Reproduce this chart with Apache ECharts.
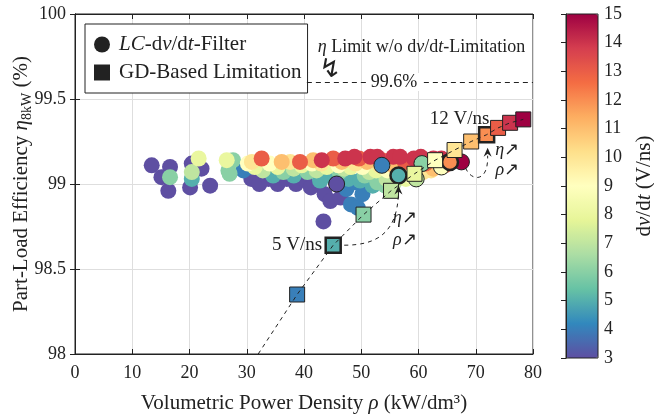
<!DOCTYPE html>
<html>
<head>
<meta charset="utf-8">
<script src="https://cdn.jsdelivr.net/npm/echarts@6/dist/echarts.min.js"></script>
<style>
  html, body { margin: 0; padding: 0; background: #fff; }
  #chart { width: 654px; height: 419px; }
</style>
</head>
<body>
<div id="chart"></div>
<script>
// LC-dv/dt-filter designs per dv/dt (V/ns), points are [rho kW/dm3, eta %]
const lc3 = [[13.4, 99.11], [15.1, 99.04], [16.6, 99.10], [16.3, 98.96], [20.1, 98.98], [20.4, 99.12],
  [22.1, 99.09], [23.6, 98.99], [30.8, 99.03], [32.2, 99.0], [33.8, 99.03], [35.4, 99.0], [37.0, 99.03],
  [38.6, 99.0], [40.0, 99.03], [41.2, 98.98], [42.6, 99.0], [43.6, 98.94], [44.6, 98.9], [43.4, 98.78],
  [46.4, 98.92]];
const lc4 = [[29.4, 99.08], [30.3, 99.1], [45.0, 99.05], [47.4, 98.97], [48.2, 98.88], [49.4, 98.86],
  [50.2, 98.94], [51.2, 98.99], [48.8, 99.01]];
const lc5 = [[20.4, 99.03], [34.6, 99.05], [38.2, 99.05], [42.8, 99.02], [44.2, 99.05], [47.8, 99.03],
  [49.8, 99.02], [52.0, 98.99]];
const lc6 = [[16.6, 99.04], [26.8, 99.08], [27.6, 99.14], [27.0, 99.06], [36.4, 99.07], [40.6, 99.07],
  [46.2, 99.07], [50.6, 99.05], [52.8, 99.01], [54.2, 98.99]];
const lc7 = [[20.4, 99.07], [32.8, 99.08], [38.2, 99.09], [42.2, 99.08], [47.0, 99.09], [51.4, 99.07],
  [54.4, 99.03], [55.8, 99.01]];
const lc8 = [[21.6, 99.15], [26.5, 99.14], [31.4, 99.1], [35.4, 99.1], [39.6, 99.11], [44.0, 99.1],
  [48.2, 99.1], [52.6, 99.08], [56.4, 99.04], [57.8, 99.03]];
const lc9 = [[30.2, 99.12], [34.0, 99.12], [41.4, 99.12], [46.0, 99.11], [50.2, 99.1], [54.6, 99.08],
  [58.6, 99.05], [60.0, 99.06]];
const lc10 = [[30.9, 99.13], [37.6, 99.13], [43.0, 99.12], [49.0, 99.12], [53.2, 99.11], [57.2, 99.08],
  [60.8, 99.07], [62.2, 99.08]];
const lc11 = [[36.1, 99.13], [41.6, 99.14], [46.6, 99.13], [51.0, 99.13], [55.6, 99.11], [59.2, 99.1],
  [62.6, 99.09], [64.0, 99.1]];
const lc13 = [[32.6, 99.15], [39.3, 99.13], [45.1, 99.15], [49.6, 99.15], [53.6, 99.14], [57.6, 99.13],
  [61.2, 99.12], [64.6, 99.11]];
const lc14 = [[43.1, 99.14], [47.2, 99.15], [51.6, 99.16], [55.6, 99.16], [59.2, 99.15], [62.6, 99.15],
  [65.6, 99.13], [48.8, 99.16], [52.8, 99.16], [56.8, 99.16], [60.4, 99.16], [64.0, 99.15], [66.8, 99.14]];
const lcGroups = [[3, lc3], [4, lc4], [5, lc5], [6, lc6], [7, lc7], [8, lc8], [9, lc9], [10, lc10],
  [11, lc11], [13, lc13], [14, lc14]];

// highlighted LC designs (outlined)
const hlDv = [3, 4, 6, 7, 5, 9, 15, 12];
const hlX = [45.7, 53.6, 60.6, 59.6, 56.5, 64.0, 67.5, 65.5];
const hlY = [99.0, 99.11, 99.12, 99.03, 99.05, 99.1, 99.13, 99.13];

// gate-driver based limitation
const gdDv = [4, 5, 6, 7, 8, 9, 10, 11, 12, 13, 14, 15];
const gdX = [38.8, 45.1, 50.4, 55.2, 59.3, 62.9, 66.3, 69.2, 71.9, 73.9, 76.0, 78.3];
const gdY = [98.35, 98.64, 98.82, 98.96, 99.06, 99.14, 99.2, 99.25, 99.29, 99.33, 99.36, 99.38];
const gdTail = [32.0, 98.0];

const labelled = [5, 12];   // designs with label + thick outline
const etaLimit = 99.6;
const limitX0 = 40.5;

const spectral = ['#5e4fa2', '#3288bd', '#66c2a5', '#abdda4', '#e6f598', '#ffffbf',
  '#fee08b', '#fdae61', '#f46d43', '#d53e4f', '#9e0142'];

const FONT = 'Liberation Serif';
const INK = '#222';
const lcName = 'LC-dv/dt-Filter';
const gdName = 'GD-Based Limitation';
const it = { fontStyle: 'italic', fontFamily: FONT };
const rm = { fontFamily: FONT };

const lcData = [];
lcGroups.forEach(([dv, pts]) => pts.forEach(p => lcData.push([p[0], p[1], dv])));
const hlData = hlDv.map((dv, i) => ({
  value: [hlX[i], hlY[i], dv],
  itemStyle: { borderWidth: labelled.includes(dv) ? 2.5 : 1 },
}));
const gdData = gdDv.map((dv, i) => ({
  value: [gdX[i], gdY[i], dv],
  itemStyle: { borderWidth: labelled.includes(dv) ? 2.5 : 1 },
}));
const gdLine = [gdTail].concat(gdX.map((x, i) => [x, gdY[i]]));

const tick = { inside: true, length: 5, lineStyle: { color: INK } };
const line = { lineStyle: { color: INK, width: 1 } };
const lbl = margin => ({ ...rm, fontSize: 18, color: INK, margin });

const chart = echarts.init(document.getElementById('chart'));
chart.setOption({
  animation: false,
  textStyle: { ...rm },
  grid: [
    { left: 75, top: 14, width: 458, height: 340, show: true, borderColor: INK, borderWidth: 1,
      outerBoundsMode: 'none', containLabel: false },
    { left: 566, top: 14, width: 32, height: 344, show: true, borderColor: INK, borderWidth: 1, z: 10,
      outerBoundsMode: 'none', containLabel: false },
  ],
  xAxis: [
    { gridIndex: 0, type: 'value', min: 0, max: 80, interval: 10, axisLine: line, axisTick: tick,
      axisLabel: lbl(10),
      splitLine: { lineStyle: { color: '#dedede' } },
      name: 'Volumetric Power Density {i|ρ} (kW/dm³)', nameLocation: 'middle', nameGap: 39,
      nameMoveOverlap: false,
      nameTextStyle: { ...rm, fontSize: 21, color: INK, rich: { i: { ...it, fontSize: 21 } } } },
    { gridIndex: 0, type: 'value', min: 0, max: 80, interval: 10, position: 'top', axisLine: line,
      axisTick: tick, axisLabel: { show: false }, splitLine: { show: false } },
    { gridIndex: 1, type: 'value', min: 0, max: 1, show: false },
  ],
  yAxis: [
    { gridIndex: 0, type: 'value', min: 98, max: 100, interval: 0.5, axisLine: line, axisTick: tick,
      axisLabel: lbl(9),
      splitLine: { lineStyle: { color: '#dedede' } },
      name: '{n|Part-Load Efficiency }{i|η}{s|8kW}{n| (%)}', nameLocation: 'middle', nameGap: 41,
      nameMoveOverlap: false,
      nameTextStyle: { ...rm, fontSize: 21, color: INK, rich: {
        n: { ...rm, fontSize: 21, lineHeight: 26 },
        i: { ...it, fontSize: 21, lineHeight: 26 },
        s: { ...rm, fontSize: 14, lineHeight: 14, verticalAlign: 'bottom' },
      } } },
    { gridIndex: 0, type: 'value', min: 98, max: 100, interval: 0.5, position: 'right', axisLine: line,
      axisTick: tick, axisLabel: { show: false }, splitLine: { show: false } },
    { gridIndex: 1, type: 'value', min: 3, max: 15, interval: 1, position: 'right', z: 10,
      axisLine: line, axisTick: tick, axisLabel: lbl(6), splitLine: { show: false },
      name: 'd{i|v}/d{i|t} (V/ns)', nameLocation: 'middle', nameRotate: 90, nameGap: 36,
      nameMoveOverlap: false,
      nameTextStyle: { ...rm, fontSize: 21, color: INK, rich: { i: { ...it, fontSize: 21 } } } },
  ],
  visualMap: {
    type: 'continuous', min: 3, max: 15, dimension: 2, seriesIndex: [0, 1, 3],
    inRange: { color: spectral }, orient: 'vertical', left: 566, top: 14,
    itemWidth: 32, itemHeight: 344, padding: 0, calculable: false, hoverLink: false,
  },
  legend: {
    left: 85, top: 24, orient: 'vertical', selectedMode: false,
    padding: [10, 6, 10, 9], itemGap: 7, itemWidth: 16, itemHeight: 16,
    borderColor: INK, borderWidth: 1, backgroundColor: '#fff', borderRadius: 0,
    data: [
      { name: lcName, icon: 'circle', itemStyle: { color: INK } },
      { name: gdName, icon: 'rect', itemStyle: { color: INK } },
    ],
    formatter: n => n === lcName ? '{i|LC}-d{i|v}/d{i|t}-Filter' : n,
    textStyle: { ...rm, fontSize: 21, color: INK, padding: [0, 0, 0, 4],
      rich: { i: { ...it, fontSize: 21 } } },
  },
  series: [
    { type: 'scatter', name: lcName, xAxisIndex: 0, yAxisIndex: 0, symbol: 'circle', symbolSize: 16,
      data: lcData, itemStyle: { color: INK, opacity: 1 }, silent: true },
    { type: 'scatter', name: 'hl', xAxisIndex: 0, yAxisIndex: 0, symbol: 'circle', symbolSize: 16,
      data: hlData, itemStyle: { color: INK, borderColor: INK, opacity: 1 }, silent: true },
    { type: 'line', name: 'gdLine', xAxisIndex: 0, yAxisIndex: 0, data: gdLine, symbol: 'none',
      lineStyle: { color: INK, width: 1, type: [4, 4] }, silent: true,
      markLine: { symbol: 'none', silent: true, label: { show: false },
        lineStyle: { color: INK, width: 1, type: [5, 4] },
        data: [[{ coord: [limitX0, etaLimit] }, { coord: [80, etaLimit] }]] } },
    { type: 'scatter', name: gdName, xAxisIndex: 0, yAxisIndex: 0, symbol: 'rect', symbolSize: 15,
      data: gdData, itemStyle: { color: INK, borderColor: INK, opacity: 1 }, silent: true },
  ],
});

// annotations
const p = (x, y) => chart.convertToPixel({ gridIndex: 0 }, [x, y]);
const sq5 = p(gdX[gdDv.indexOf(5)], gdY[gdDv.indexOf(5)]);
const sq12 = p(gdX[gdDv.indexOf(12)], gdY[gdDv.indexOf(12)]);
const c5 = p(hlX[hlDv.indexOf(5)], hlY[hlDv.indexOf(5)]);
const c15 = p(hlX[hlDv.indexOf(15)], hlY[hlDv.indexOf(15)]);

const txt = (x, y, text, extra) => ({
  type: 'text', x, y, z: 100,
  style: Object.assign({ text, fontFamily: FONT, fontSize: 18, fill: INK, align: 'center',
    verticalAlign: 'middle', rich: { i: { ...it, fontSize: 18, fill: INK } } }, extra || {}),
});
const arrow = (tx, ty) => ({
  type: 'polygon', z: 100,
  shape: { points: [[tx, ty], [tx - 4, ty + 9], [tx, ty + 6], [tx + 4, ty + 9]] },
  style: { fill: INK },
});
const curve = (a, b, c, d) => ({
  type: 'bezierCurve', z: 100,
  shape: { x1: a[0], y1: a[1], cpx1: b[0], cpy1: b[1], cpx2: c[0], cpy2: c[1], x2: d[0], y2: d[1] },
  style: { stroke: INK, lineWidth: 1, lineDash: [4, 4], fill: null },
});

const lim = p(42.4, 99.806);
const bolt = p(44.55, 99.67);
const lab = p(55.7, etaLimit);
const e1 = p(57.6, 98.8), r1 = p(57.6, 98.67);
const e2 = p(75.5, 99.2), r2 = p(75.5, 99.08);

chart.setOption({
  graphic: [
    txt(lim[0], lim[1], '{i|η} Limit w/o d{i|v}/d{i|t}-Limitation', { align: 'left' }),
    txt(bolt[0], bolt[1], '↯', { fontFamily: 'DejaVu Sans', fontSize: 26 }),
    txt(lab[0], lab[1], '99.6%', { backgroundColor: '#fff', padding: [0, 3] }),
    txt(sq12[0] - 27, sq12[1] - 16, '12 V/ns', { fontSize: 19 }),
    txt(sq5[0] - 11, sq5[1], '5 V/ns', { fontSize: 19, align: 'right' }),
    txt(e1[0], e1[1], '{i|η}↗'), txt(r1[0], r1[1], '{i|ρ}↗'),
    txt(e2[0], e2[1], '{i|η}↗'), txt(r2[0], r2[1], '{i|ρ}↗'),
    curve([sq5[0] + 11, sq5[1]], [c5[0] - 23, sq5[1]], [c5[0] - 1, sq5[1] - 11], [c5[0], c5[1] + 17]),
    arrow(c5[0], c5[1] + 10),
    curve([c15[0] + 4, c15[1] + 6], [c15[0] + 10, c15[1] + 20], [sq12[0] + 2, sq12[1] + 48], [sq12[0] + 1, sq12[1] + 21]),
    arrow(sq12[0] + 1, sq12[1] + 13),
  ],
});
</script>
</body>
</html>
